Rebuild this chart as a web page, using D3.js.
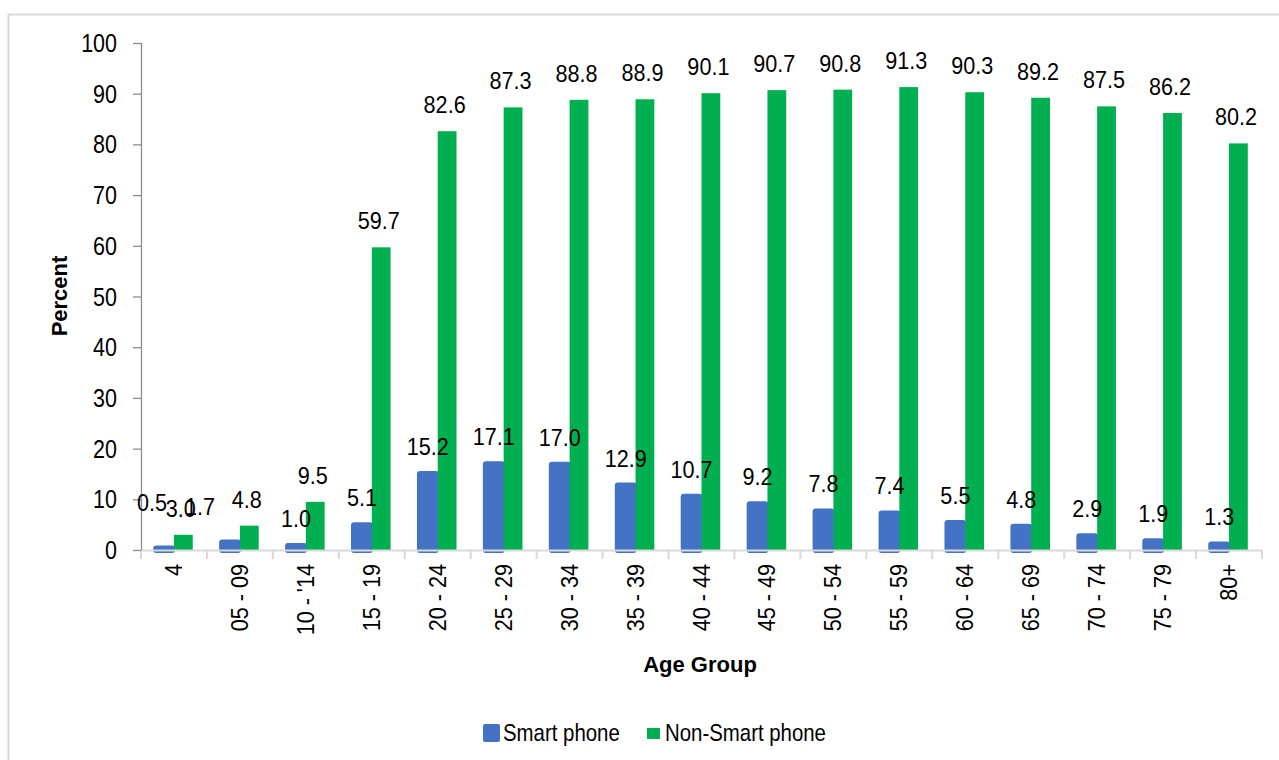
<!DOCTYPE html>
<html><head><meta charset="utf-8"><script src="https://cdn.jsdelivr.net/npm/d3@7"></script>
<style>body{margin:0;background:#fff}text{font-family:"Liberation Sans",Arial,sans-serif;fill:#000}</style></head>
<body>
<svg width="1279" height="760"></svg>
<script>
const categories=["4","05 - 09","10 - '14","15 - 19","20 - 24","25 - 29","30 - 34","35 - 39","40 - 44","45 - 49","50 - 54","55 - 59","60 - 64","65 - 69","70 - 74","75 - 79","80+"];
const smartPhone=[0.5,1.7,1.0,5.1,15.2,17.1,17.0,12.9,10.7,9.2,7.8,7.4,5.5,4.8,2.9,1.9,1.3];
const nonSmartPhone=[3.0,4.8,9.5,59.7,82.6,87.3,88.8,88.9,90.1,90.7,90.8,91.3,90.3,89.2,87.5,86.2,80.2];
const yTicks=[0,10,20,30,40,50,60,70,80,90,100];
const seriesNames=["Smart phone","Non-Smart phone"];
const colors=["#4472C4","#00B050"];

const svg=d3.select("svg");
const m={left:141,right:1262,top:43,bottom:550};
const x=d3.scaleBand().domain(categories).range([m.left,m.right]).padding(0);
const y=d3.scaleLinear().domain([0,100]).range([m.bottom,m.top]);
const bw=x.bandwidth()*0.3;

// helper: condensed text
function ctext(g,tx,ty,str,opts){
  opts=opts||{};
  const sx=opts.sx||0.86, rot=opts.rot||0;
  const t=g.append("text")
    .attr("transform",`translate(${tx},${ty}) rotate(${rot}) scale(${sx},1)`)
    .attr("text-anchor",opts.anchor||"middle")
    .style("font-size",(opts.size||24)+"px")
    .style("font-weight",opts.weight||"normal")
    .text(str);
  if(opts.dy) t.attr("dy",opts.dy);
  return t;
}

// border
svg.append("rect").attr("x",8.5).attr("y",14.5).attr("width",1290).attr("height",800)
  .attr("fill","none").attr("stroke","#D9D9D9").attr("stroke-width",2);

const gBars=svg.append("g");
// blue bars (rounded, slightly extending under the baseline)
gBars.selectAll("rect.s").data(smartPhone).join("rect").attr("class","s")
  .attr("x",(d,i)=>x(categories[i])+x.bandwidth()/2-bw-1)
  .attr("y",d=>y(d)-2)
  .attr("width",bw+2)
  .attr("height",d=>y(0)-y(d)+5)
  .attr("rx",3).attr("fill",colors[0]);
gBars.selectAll("rect.n").data(nonSmartPhone).join("rect").attr("class","n")
  .attr("x",(d,i)=>x(categories[i])+x.bandwidth()/2)
  .attr("y",d=>y(d))
  .attr("width",bw-1)
  .attr("height",d=>y(0)-y(d))
  .attr("fill",colors[1]);

// x axis
const xAxisG=svg.append("g");
xAxisG.append("line").attr("x1",m.left).attr("x2",m.right).attr("y1",y(0)+0.5).attr("y2",y(0)+0.5)
  .attr("stroke","#D9D9D9").attr("stroke-width",2);
const bounds=categories.map(c=>x(c)).concat([m.right]);
xAxisG.selectAll("line.t").data(bounds).join("line").attr("class","t")
  .attr("x1",d=>d).attr("x2",d=>d).attr("y1",y(0)).attr("y2",y(0)+9)
  .attr("stroke","#D9D9D9").attr("stroke-width",2);
categories.forEach(c=>{
  ctext(xAxisG,x(c)+x.bandwidth()/2+8,564,c,{rot:-90,anchor:"end",size:24,sx:0.9});
});

// y axis
const yAxisG=svg.append("g");
yAxisG.append("line").attr("x1",m.left+0.5).attr("x2",m.left+0.5).attr("y1",y(100)).attr("y2",y(0))
  .attr("stroke","#8C8C8C").attr("stroke-width",1.3);
yAxisG.selectAll("line.t").data(yTicks).join("line").attr("class","t")
  .attr("x1",m.left-8).attr("x2",m.left).attr("y1",d=>y(d)+0.5).attr("y2",d=>y(d)+0.5)
  .attr("stroke","#8C8C8C").attr("stroke-width",1.3);
yTicks.forEach(t=>ctext(yAxisG,117,y(t)+9,String(t),{anchor:"end",size:25,sx:0.86}));

// axis titles
svg.append("text").attr("x",700).attr("y",672).attr("text-anchor","middle")
  .style("font-size","22px").style("font-weight","bold").text("Age Group");
svg.append("text").attr("transform","translate(67,296) rotate(-90)").attr("text-anchor","middle")
  .style("font-size","22px").style("font-weight","bold").text("Percent");

// data labels (first two smart-phone labels were nudged in the original)
const labelShift={0:[-12,-18],1:[-30,-8]};
const gLab=svg.append("g");
smartPhone.forEach((v,i)=>{
  const s=labelShift[i]||[0,0];
  const cx=x(categories[i])+x.bandwidth()/2-bw/2+s[0];
  ctext(gLab,cx,y(v)-18+s[1],v.toFixed(1),{size:24,sx:0.9});
});
nonSmartPhone.forEach((v,i)=>{
  const cx=x(categories[i])+x.bandwidth()/2+bw/2-3;
  ctext(gLab,cx,y(v)-18,v.toFixed(1),{size:24,sx:0.9});
});

// legend
const lg=svg.append("g");
lg.append("rect").attr("x",483).attr("y",724).attr("width",17).attr("height",18).attr("rx",2).attr("fill",colors[0]);
ctext(lg,503,741,seriesNames[0],{anchor:"start",size:24,sx:0.85});
lg.append("rect").attr("x",647).attr("y",728).attr("width",13).attr("height",11).attr("fill",colors[1]);
ctext(lg,665,741,seriesNames[1],{anchor:"start",size:24,sx:0.85});
</script></body></html>
